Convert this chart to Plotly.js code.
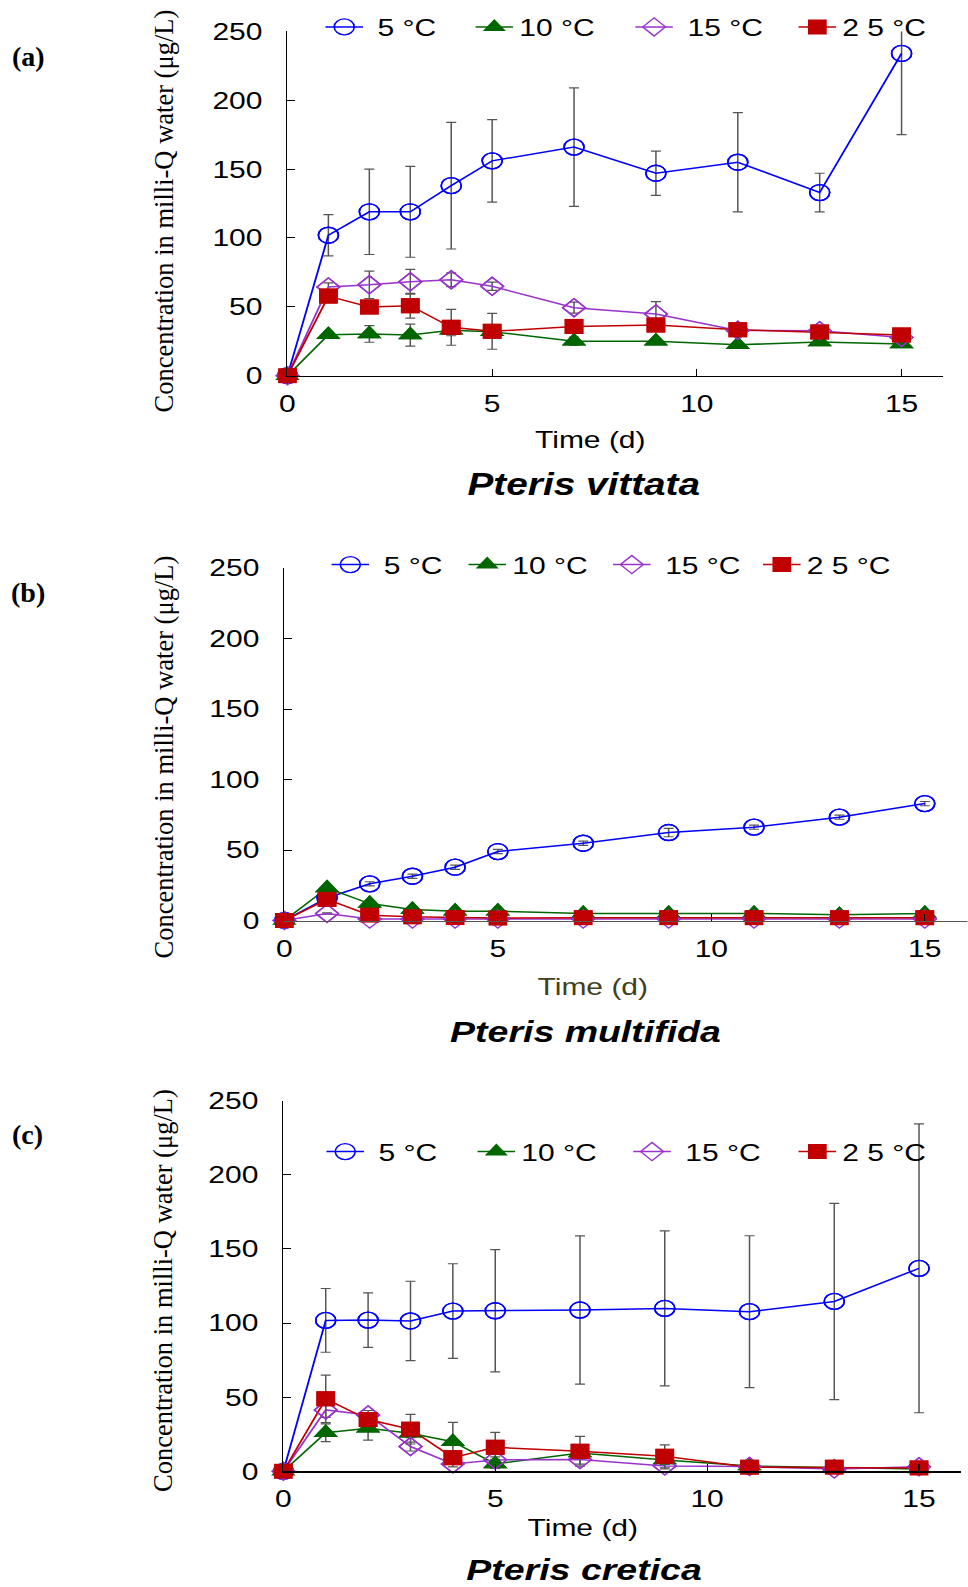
<!DOCTYPE html>
<html><head><meta charset="utf-8">
<script src="https://cdn.plot.ly/plotly-3.0.1.min.js"></script>
<style>
html,body{margin:0;padding:0;background:#fff;width:968px;height:1587px;overflow:hidden;}
#chart{position:absolute;left:0;top:0;transform-origin:0 0;}
#labels{position:absolute;left:0;top:0;width:968px;height:1587px;pointer-events:none;}
</style></head><body>
<div id="chart"></div><div id="labels"></div>
<script>
// ---------- data ----------
const days = [0,1,2,3,4,5,7,9,11,13,15];
const seriesNames = ['5 °C','10 °C','15 °C','2 5 °C'];
const xTicks = [0,5,10,15];
const yTicks = [0,50,100,150,200,250];
const speciesNames = ['Pteris vittata','Pteris multifida','Pteris cretica'];
const panelLetters = ['(a)','(b)','(c)'];
const xTitle = 'Time (d)';
const yTitle = 'Concentration in milli-Q water (μg/L)';

// (a) Pteris vittata
const a5  = [0,102,119,119,138,156,166,147,155,133,234];
const a5e = [0,15,31,33,46,30,43,16,36,14,59];
const a10  = [0,29.8,30.3,29.5,33,32,25,25,22.5,24.4,23];
const a10e = [0,2,6,8,4,4,3,2,1,1,1];
const a15  = [0,64.4,66,68.2,69.7,64.9,49.4,44.8,32.9,32.7,27.8];
const a15e = [0,3,10,9,5,3,4,9,2,2,2];
const a25  = [0,57.8,49.9,50.8,35.1,32.2,35.8,36.8,33.4,31.7,29.5];
const a25e = [0,3,3,9,13,13,2,2,2,2,2];

// (b) Pteris multifida
const b5  = [0,16,26,31.4,37.8,48.9,54.8,62.4,66.2,73.3,82.9];
const b5e = [0,1,1.5,1.5,1.5,1.5,1.5,3,1.5,1.5,1.5];
const b10  = [0,23,12,7.8,6.6,6.6,5,5,5,4,5];
const b10e = [0,1,1,1,1,1,0.5,0.5,0.5,0.5,0.5];
const b15  = [0,5,1,1,1,1,1,1,1,1,1];
const b15e = [0,0.5,0.5,0.5,0.5,0.5,0.5,0.5,0.5,0.5,0.5];
const b25  = [0,15,3.8,2.6,2.1,1.7,2,2,2,2,2];
const b25e = [0,1,0.5,0.5,0.5,0.5,0.5,0.5,0.5,0.5,0.5];

// (c) Pteris cretica
const c5  = [0,101.8,102,101.4,108.1,108.3,108.8,109.9,107.7,114.6,136.9];
const c5e = [0,21.5,18.4,26.8,31.9,41.2,50,52.3,51.2,66.2,97.4];
const c10  = [0,26,29,25.7,20,5,12.4,7.7,3.6,2.7,1.6];
const c10e = [0,6,8,3,13,3,4,3,1,1,1];
const c15  = [0,41.4,38,16.7,5,7.7,7.9,3.6,3.2,1.6,3];
const c15e = [0,5,3,3,2,2,3,2,1,1,1];
const c25  = [0,48.9,34.9,28.4,9.2,16.2,13.5,10.1,2.7,2.7,2.3];
const c25e = [0,16,4,10,3,10,10,7.7,1,1,1];

// ---------- styling ----------
const S = 1.25;              // horizontal stretch of the chart artwork
const WU = 968 / S;          // unstretched drawing width
const H = 1587;
const SANS = 'Liberation Sans, Arial, sans-serif';
const SERIF = 'Liberation Serif, Times New Roman, serif';
const NB = 8.3;              // width (page px) of the leading space in some legend labels
const padLabel = [true, false, true, false];

const styles = [
  {color:'#0000ff', marker:{symbol:'circle-open', size:16, color:'#0000ff', line:{width:1.3, color:'#0000ff'}}},
  {color:'#006600', marker:{symbol:'triangle-up', size:17, color:'#006600'}},
  {color:'#9933cc', marker:{symbol:'diamond-open', size:14, color:'#9933cc', line:{width:1.3, color:'#9933cc'}}},
  {color:'#c00000', marker:{symbol:'square', size:15, color:'#c00000'}}
];

const panels = [
  {vals:[a5,a10,a15,a25], errs:[a5e,a10e,a15e,a25e], xd:[287.6,943], yd:[31.4,375.7], xline:'#000', xlw:1.2,
   legend:{text:[377.7,519.5,687.6,842.5], y:27.3}, xt:[590.5,439,'#000'], sp:[584,484], spSize:31},
  {vals:[b5,b10,b15,b25], errs:[b5e,b10e,b15e,b25e], xd:[284.5,968], yd:[568,920.5], xline:'#555', xlw:1.8,
   legend:{text:[383.8,512.4,665.3,807], y:565}, xt:[592.5,986,'#40401a'], sp:[586,1031], spSize:30},
  {vals:[c5,c10,c15,c25], errs:[c5e,c10e,c15e,c25e], xd:[283.5,961.9], yd:[1100.7,1471.3], xline:'#000', xlw:1.2,
   legend:{text:[378.7,521.5,685.5,842.5], y:1152}, xt:[583,1527,'#000'], sp:[584,1569], spSize:30}
];

const traces = [];
const overlay = [];
const layout = {
  width: WU, height: H, autosize:false,
  margin:{l:0,r:0,t:0,b:0}, paper_bgcolor:'#fff', plot_bgcolor:'rgba(0,0,0,0)',
  showlegend:true, annotations:[]
};

panels.forEach((p, pi) => {
  const n = pi === 0 ? '' : String(pi + 1);
  const xk = 'x' + n, yk = 'y' + n;
  const legName = 'legend' + n;
  const origins = p.legend.text.map((t, i) => t - 50 - (padLabel[i] ? NB : 0));
  p.vals.forEach((v, si) => {
    const st = styles[si];
    const w = si < 3 ? (origins[si+1] - origins[si]) / S - 45 : 80;
    traces.push({
      x: days, y: v, name: (padLabel[si] ? '\u00a0' : '') + seriesNames[si], type:'scatter', mode:'lines+markers',
      xaxis: xk, yaxis: yk, legend: legName, legendwidth: w,
      line:{color: st.color, width:1.5}, marker: st.marker, cliponaxis:true,
      error_y:{type:'data', array:p.errs[si], visible:true, color:'#555', thickness:1.2, width:4},
      hoverinfo:'skip'
    });
    overlay.push({
      x: days, y: v, type:'scatter', mode:'markers', xaxis: xk, yaxis: yk,
      marker: st.marker, cliponaxis:false, showlegend:false, hoverinfo:'skip'
    });
  });
  const dom = [p.xd[0]/968, p.xd[1]/968];
  layout['xaxis' + n] = {
    domain: dom, range:[0,16], anchor: yk, tickmode:'array', tickvals:xTicks,
    ticks:'inside', ticklen:7, tickwidth:1, tickcolor:'#000',
    showline:true, linecolor:p.xline, linewidth:p.xlw, showgrid:false, zeroline:false,
    tickfont:{family:SANS, size:24, color:'#000'}, ticklabelstandoff:6, fixedrange:true
  };
  layout['yaxis' + n] = {
    domain:[1 - p.yd[1]/H, 1 - p.yd[0]/H], range:[0,250], anchor: xk, tickmode:'array', tickvals:yTicks,
    ticks:'inside', ticklen:6, tickwidth:1, tickcolor:'#000',
    showline:true, linecolor:'#000', linewidth:1.2, showgrid:false, zeroline:false,
    tickfont:{family:SANS, size:24, color:'#000'}, ticklabelstandoff:14, fixedrange:true
  };
  layout[legName] = {
    orientation:'h', x:(origins[0]/S)/WU, xanchor:'left',
    y: 1 - p.legend.y/H, yanchor:'middle', bgcolor:'rgba(0,0,0,0)', borderwidth:0,
    font:{family:SANS, size:24, color:'#000'}, itemclick:false, itemdoubleclick:false
  };
  layout.annotations.push({
    xref:'paper', yref:'paper', x:p.xt[0]/968, y:1 - p.xt[1]/H, xanchor:'center', yanchor:'middle',
    showarrow:false, text:xTitle, font:{family:SANS, size:24, color:p.xt[2]}
  });
  layout.annotations.push({
    xref:'paper', yref:'paper', x:p.sp[0]/968, y:1 - p.sp[1]/H, xanchor:'center', yanchor:'middle',
    showarrow:false, text:'<b><i>' + speciesNames[pi] + '</i></b>', font:{family:SANS, size:p.spSize, color:'#000'}
  });
});

const chartDiv = document.getElementById('chart');
chartDiv.style.width = WU + 'px';
chartDiv.style.height = H + 'px';
chartDiv.style.transform = 'scaleX(' + S + ')';
Plotly.newPlot(chartDiv, traces.concat(overlay), layout, {staticPlot:true, displayModeBar:false});

// Unstretched serif labels (y-axis titles and panel letters)
const yTitlePos = [[163,211.5],[163,757.5],[163,1291]];
const letterPos = [[28.5,56],[28.4,593],[27.5,1134]];
const ann2 = [];
yTitlePos.forEach(pp => ann2.push({
  xref:'paper', yref:'paper', x:pp[0]/968, y:1 - pp[1]/H, xanchor:'center', yanchor:'middle',
  showarrow:false, textangle:-90, text:yTitle, font:{family:SERIF, size:26.5, color:'#000'}
}));
letterPos.forEach((pp, i) => ann2.push({
  xref:'paper', yref:'paper', x:pp[0]/968, y:1 - pp[1]/H, xanchor:'center', yanchor:'middle',
  showarrow:false, text:'<b>' + panelLetters[i] + '</b>', font:{family:SERIF, size:28, color:'#000'}
}));
Plotly.newPlot('labels', [], {
  width:968, height:H, autosize:false, margin:{l:0,r:0,t:0,b:0},
  paper_bgcolor:'rgba(0,0,0,0)', plot_bgcolor:'rgba(0,0,0,0)',
  xaxis:{visible:false, range:[0,1]}, yaxis:{visible:false, range:[0,1]},
  showlegend:false, annotations:ann2
}, {staticPlot:true, displayModeBar:false});
</script>
</body></html>
